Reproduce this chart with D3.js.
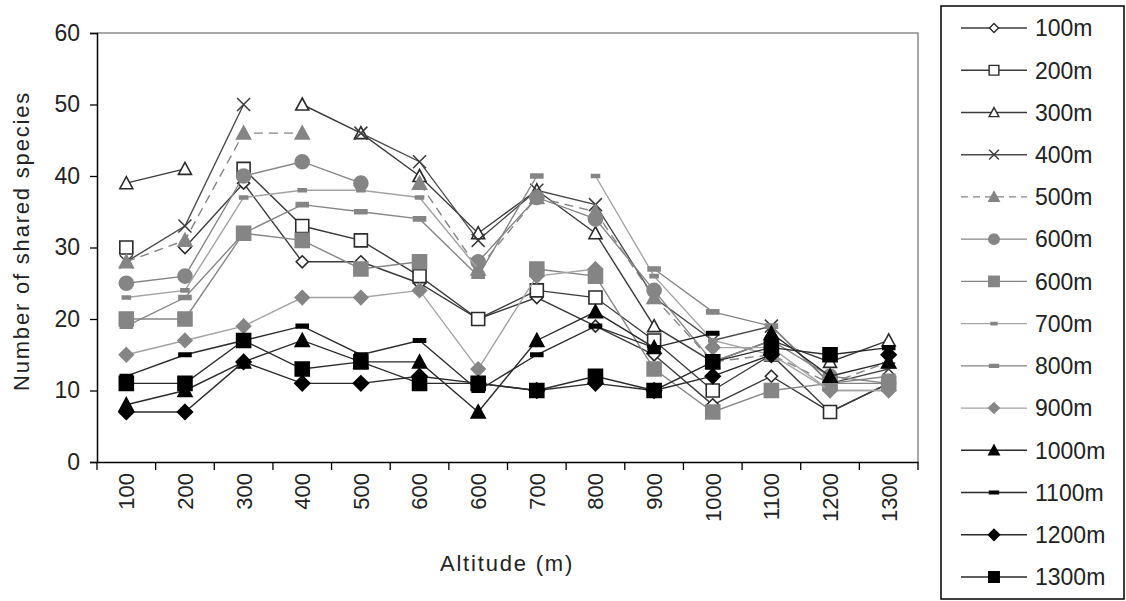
<!DOCTYPE html>
<html>
<head>
<meta charset="utf-8">
<script src="https://cdn.jsdelivr.net/npm/d3@7"></script>
<style>
  html, body { margin: 0; padding: 0; background: #fff; }
  svg { display: block; font-family: "Liberation Sans", Arial, sans-serif; }
</style>
</head>
<body>
<svg id="chart" width="1126" height="601"></svg>
<script>
// Altitude bands on the x axis (600 m appears twice: two plots at that altitude)
const categories = ["100", "200", "300", "400", "500", "600", "600", "700", "800", "900", "1000", "1100", "1200", "1300"];
const seriesNames = ["100m", "200m", "300m", "400m", "500m", "600m", "600m", "700m", "800m", "900m", "1000m", "1100m", "1200m", "1300m"];
const yTicks = [0, 10, 20, 30, 40, 50, 60];

// Shared species between each site and every other altitude (null = same site)
const s100  = [null, 30, 39, 28, 28, 25, 20, 23, 19, 15,  8, 12,  7, 11];
const s200  = [30, null, 41, 33, 31, 26, 20, 24, 23, 17, 10, 15,  7, 11];
const s300  = [39, 41, null, 50, 46, 40, 32, 38, 32, 19, 14, 17, 14, 17];
const s400  = [28, 33, 50, null, 46, 42, 31, 38, 36, 23, 17, 19, 11, 13];
const s500  = [28, 31, 46, 46, null, 39, 27, 37, 35, 23, 14, 15, 11, 14];
const s600a = [25, 26, 40, 42, 39, null, 28, 37, 34, 24, 14, 17, 12, 11];
const s600b = [20, 20, 32, 31, 27, 28, null, 27, 26, 13,  7, 10, 11, 11];
const s700  = [23, 24, 37, 38, 38, 37, 27, null, 40, 26, 17, 15, 10, 10];
const s800  = [19, 23, 32, 36, 35, 34, 26, 40, null, 27, 21, 19, 11, 12];
const s900  = [15, 17, 19, 23, 23, 24, 13, 26, 27, null, 16, 16, 10, 10];
const s1000 = [ 8, 10, 14, 17, 14, 14,  7, 17, 21, 16, null, 18, 12, 14];
const s1100 = [12, 15, 17, 19, 15, 17, 10, 15, 19, 16, 18, null, 15, 16];
const s1200 = [ 7,  7, 14, 11, 11, 12, 11, 10, 11, 10, 12, 15, null, 15];
const s1300 = [11, 11, 17, 13, 14, 11, 11, 10, 12, 10, 14, 16, 15, null];

const seriesValues = [s100, s200, s300, s400, s500, s600a, s600b, s700, s800, s900, s1000, s1100, s1200, s1300];

// Marker and line appearance for each series
const DARK = "#2a2a2a", GREY = "#858585", LIGHT = "#a3a3a3";
const styles = [
  { shape: "diamond",  size: 6,   fill: "#fff", stroke: DARK, line: "#3a3a3a" },
  { shape: "square",   size: 6.5, fill: "#fff", stroke: DARK, line: "#3a3a3a" },
  { shape: "triangle", size: 6.5, fill: "#fff", stroke: DARK, line: "#3a3a3a" },
  { shape: "x",        size: 6.5, fill: "none", stroke: "#3a3a3a", line: "#4a4a4a" },
  { shape: "triangle", size: 7,   fill: GREY, stroke: GREY, line: GREY, dash: "9,6" },
  { shape: "circle",   size: 7,   fill: GREY, stroke: GREY, line: GREY },
  { shape: "square",   size: 7,   fill: GREY, stroke: GREY, line: GREY },
  { shape: "dash",     size: 4,   fill: GREY, stroke: GREY, line: LIGHT, h: 3 },
  { shape: "dash",     size: 6,   fill: GREY, stroke: GREY, line: GREY, h: 4 },
  { shape: "diamond",  size: 7,   fill: GREY, stroke: GREY, line: LIGHT },
  { shape: "triangle", size: 7,   fill: "#000", stroke: "#000", line: DARK },
  { shape: "dash",     size: 6,   fill: "#000", stroke: "#000", line: DARK, h: 3.5 },
  { shape: "diamond",  size: 7.5, fill: "#000", stroke: "#000", line: DARK },
  { shape: "square",   size: 7,   fill: "#000", stroke: "#000", line: DARK }
];

const svg = d3.select("#chart");
const plot = { left: 97, right: 918, top: 33, bottom: 462 };

const x = d3.scaleBand().domain(d3.range(categories.length)).range([plot.left, plot.right]).padding(0);
const y = d3.scaleLinear().domain([0, 60]).range([plot.bottom, plot.top]);

// Plot-area frame (grey top and right edges)
svg.append("path")
  .attr("d", `M${plot.left},${plot.top}H${plot.right}V${plot.bottom}`)
  .attr("fill", "none").attr("stroke", "#8a8a8a").attr("stroke-width", 1.5);

// Y axis
const yAxis = svg.append("g").attr("transform", `translate(${plot.left},0)`)
  .call(d3.axisLeft(y).tickValues(yTicks).tickSize(7).tickPadding(10).tickFormat(d3.format("d")));
yAxis.select(".domain").attr("stroke", "#000").attr("stroke-width", 1.5);
yAxis.selectAll(".tick line").attr("stroke", "#000").attr("stroke-width", 1.3);
yAxis.selectAll("text").attr("font-size", 23).attr("fill", "#222").attr("font-family", "Liberation Sans, Arial, sans-serif");

// X axis: labels centred in each band, tick marks on band edges
const xAxis = svg.append("g").attr("transform", `translate(0,${plot.bottom})`)
  .call(d3.axisBottom(x).tickSize(0).tickFormat(i => categories[i]));
xAxis.select(".domain").attr("stroke", "#000").attr("stroke-width", 1.5);
xAxis.selectAll("text")
  .attr("font-size", 22).attr("fill", "#222").attr("font-family", "Liberation Sans, Arial, sans-serif")
  .attr("text-anchor", "end").attr("transform", "rotate(-90)")
  .attr("x", -11).attr("y", 0).attr("dy", "0.36em");
const edges = d3.range(categories.length).map(i => x(i)).concat([plot.right]);
svg.append("g").selectAll("line").data(edges).join("line")
  .attr("x1", d => d).attr("x2", d => d)
  .attr("y1", plot.bottom).attr("y2", plot.bottom + 8)
  .attr("stroke", "#000").attr("stroke-width", 1.3);

// Axis titles
svg.append("text")
  .attr("transform", "translate(29,241) rotate(-90)")
  .attr("text-anchor", "middle").attr("font-size", 22).attr("letter-spacing", 1.8)
  .attr("fill", "#222").text("Number of shared species");
svg.append("text")
  .attr("x", 507).attr("y", 571)
  .attr("text-anchor", "middle").attr("font-size", 22).attr("letter-spacing", 1.8)
  .attr("fill", "#222").text("Altitude (m)");

// Marker path builder
function markerPath(st, k) {
  const s = st.size * k;
  switch (st.shape) {
    case "diamond": return `M0,${-s}L${s},0L0,${s}L${-s},0Z`;
    case "square": return `M${-s},${-s}H${s}V${s}H${-s}Z`;
    case "triangle": return `M0,${-s}L${s},${s * 0.85}H${-s}Z`;
    case "x": return `M${-s},${-s}L${s},${s}M${s},${-s}L${-s},${s}`;
    case "dash": { const h = st.h * k / 2; return `M${-s},${-h}H${s}V${h}H${-s}Z`; }
    case "circle": return d3.arc()({ innerRadius: 0, outerRadius: s, startAngle: 0, endAngle: 2 * Math.PI });
  }
}

const cx = i => x(i) + x.bandwidth() / 2;
const line = d3.line().defined(d => d.v != null).x(d => cx(d.i)).y(d => y(d.v));

// Series lines and markers, drawn in legend order
seriesValues.forEach((vals, si) => {
  const st = styles[si];
  const pts = vals.map((v, i) => ({ i, v }));
  const g = svg.append("g");
  g.append("path").datum(pts)
    .attr("d", line).attr("fill", "none")
    .attr("stroke", st.line).attr("stroke-width", 1.4)
    .attr("stroke-dasharray", st.dash || null);
  g.selectAll("path.m").data(pts.filter(d => d.v != null)).join("path")
    .attr("class", "m")
    .attr("transform", d => `translate(${cx(d.i)},${y(d.v)})`)
    .attr("d", markerPath(st, 1))
    .attr("fill", st.fill).attr("stroke", st.stroke)
    .attr("stroke-width", st.shape === "x" ? 1.5 : 1.6);
});

// Legend
const legend = svg.append("g");
legend.append("rect")
  .attr("x", 941).attr("y", 6).attr("width", 183).attr("height", 593)
  .attr("fill", "#fff").attr("stroke", "#000").attr("stroke-width", 1.5);
const ly = d3.scaleLinear().domain([0, seriesNames.length - 1]).range([28, 577]);
seriesNames.forEach((name, si) => {
  const st = styles[si];
  const yy = ly(si);
  legend.append("line")
    .attr("x1", 961).attr("x2", 1027).attr("y1", yy).attr("y2", yy)
    .attr("stroke", st.line).attr("stroke-width", 1.4)
    .attr("stroke-dasharray", st.dash ? "7,5" : null);
  legend.append("path")
    .attr("transform", `translate(994,${yy})`)
    .attr("d", markerPath(st, 0.75))
    .attr("fill", st.fill).attr("stroke", st.stroke).attr("stroke-width", 1.4);
  legend.append("text")
    .attr("x", 1035).attr("y", yy).attr("dy", "0.36em")
    .attr("font-size", 23).attr("fill", "#222").text(name);
});
</script>
</body>
</html>
